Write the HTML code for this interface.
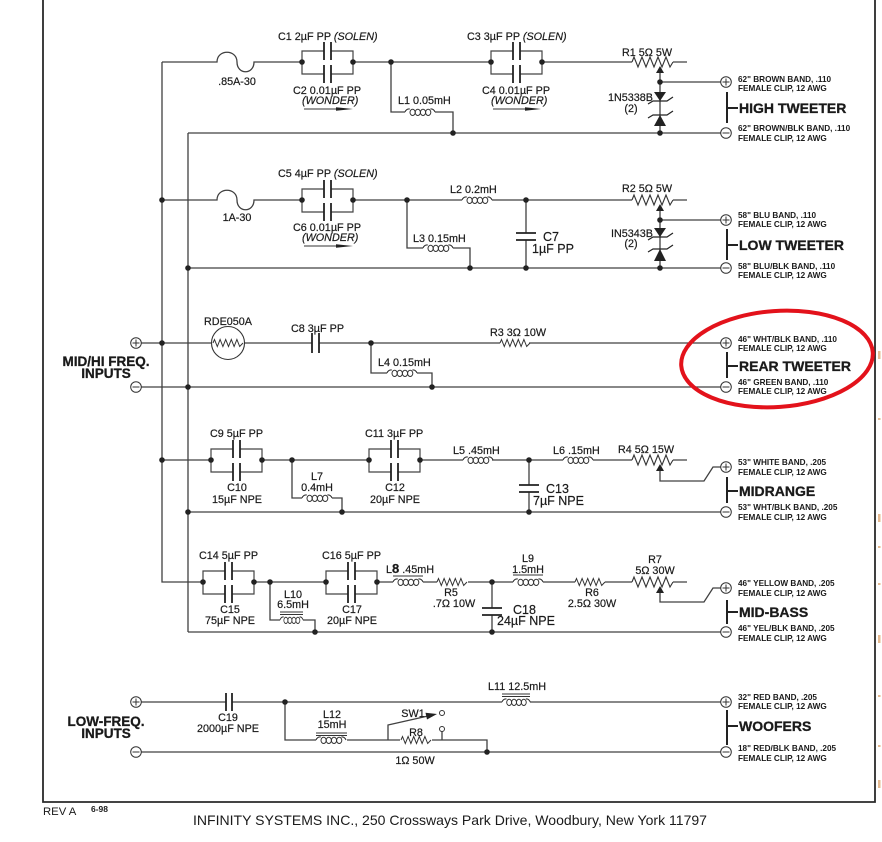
<!DOCTYPE html>
<html><head><meta charset="utf-8">
<style>
html,body{margin:0;padding:0;background:#fff;}
svg{display:block}
text{font-family:"Liberation Sans",Arial,sans-serif;fill:#1a1a1a}
.c{font-size:10.8px;stroke:#1a1a1a;stroke-width:0.2}
.s{font-size:8.2px;font-weight:bold}
.b{font-size:14px;font-weight:bold;stroke:#1a1a1a;stroke-width:0.3}
.inp{font-size:13.5px;font-weight:bold;stroke:#1a1a1a;stroke-width:0.3}
.i{font-style:italic}
</style></head><body>
<svg width="882" height="842" viewBox="0 0 882 842" xmlns="http://www.w3.org/2000/svg">
<defs>
 <g id="cbox">
  <path d="M0,0V-11H22M29,-11H51V0M0,0V12H22M29,12H51V0" fill="none" stroke="#444" stroke-width="1.2"/>
  <path d="M22,-20V-2M29,-20V-2M22,3V21M29,3V21" fill="none" stroke="#222" stroke-width="1.8"/>
  <circle cx="0" cy="0" r="2.8" fill="#222"/>
  <circle cx="51" cy="0" r="2.8" fill="#222"/>
 </g>
 <g id="coil" fill="none" stroke="#333" stroke-width="1">
  <path d="M0,0Q1.5,-3.5 4.8,-3M25.4,-3Q28.5,-3.5 30,0"/>
  <ellipse cx="7.6" cy="0.4" rx="2.6" ry="3.1"/>
  <ellipse cx="12.8" cy="0.4" rx="2.6" ry="3.1"/>
  <ellipse cx="18" cy="0.4" rx="2.6" ry="3.1"/>
  <ellipse cx="23.2" cy="0.4" rx="2.6" ry="3.1"/>
 </g>
 <polyline id="rp" points="0,0 2,-5 6,5 10,-5 14,5 18,-5 22,5 26,-5 30,5 34,-5 38,5 41,0" fill="none" stroke="#333" stroke-width="1.1"/>
 <polyline id="rs" points="0,0 1.5,-3.5 4.3,3.5 7.1,-3.5 9.9,3.5 12.7,-3.5 15.5,3.5 18.3,-3.5 21.1,3.5 23.9,-3.5 26.7,3.5 30,0" fill="none" stroke="#333" stroke-width="1"/>
 <g id="tp"><circle cx="0" cy="0" r="5.3" fill="#fff" stroke="#333" stroke-width="1"/><path d="M-3.5,0H3.5M0,-3.5V3.5" stroke="#333" stroke-width="1"/></g>
 <g id="tm"><circle cx="0" cy="0" r="5.3" fill="#fff" stroke="#333" stroke-width="1"/><path d="M-3.5,0H3.5" stroke="#333" stroke-width="1"/></g>
</defs>

<!-- frame -->
<path d="M43,0V802H875V0" fill="none" stroke="#2a2a2a" stroke-width="1.8"/>
<!-- orange edge marks -->
<g fill="#e6bb92">
 <rect x="878" y="351" width="2.5" height="8"/>
 <rect x="878" y="418" width="2.5" height="2"/>
 <rect x="878" y="514" width="2.5" height="8"/>
 <rect x="878" y="546" width="2.5" height="2"/>
 <rect x="878" y="583" width="2.5" height="2"/>
 <rect x="878" y="635" width="2.5" height="8"/>
 <rect x="878" y="695" width="2.5" height="2"/>
 <rect x="878" y="745" width="2.5" height="2"/>
 <rect x="878" y="780" width="2.5" height="8"/>
</g>

<!-- wires -->
<g fill="none" stroke="#404040" stroke-width="1.3">
 <path d="M162,62V582H203"/>
 <path d="M188,133V632"/>
 <path d="M162,62H217C217,49 237,49 237,62S254,75 254,62H302"/>
 <path d="M353,62H491M542,62H632M673,62H687"/>
 <path d="M391,62V112H405M435,112H453V133"/>
 <path d="M660,73V133M660,82H721"/>
 <path d="M188,133H721"/>
 <path d="M162,200H217C217,187 237,187 237,200S254,213 254,200H302"/>
 <path d="M353,200H462M492,200H632M673,200H687"/>
 <path d="M407,200V248H423M453,248H470V268"/>
 <path d="M526,200V233M526,240V268"/>
 <path d="M660,211V268M660,220H721"/>
 <path d="M188,268H721"/>
 <path d="M141,343H211.5M244.5,343H312M319,343H500M529,343H721"/>
 <path d="M371,343V373H387M417,373H432V387"/>
 <path d="M141,387H721"/>
 <path d="M162,460H211M262,460H369M420,460H463M492,460H563M593,460H632M673,460H687"/>
 <path d="M292,460V498H302M332,498H342V512"/>
 <path d="M529,460V485M529,492V512"/>
 <path d="M660,471V481H704L713,467H721"/>
 <path d="M188,512H721"/>
 <path d="M254,582H326M377,582H393M423,582H437M468,582H513M543,582H575M605,582H632M673,582H687"/>
 <path d="M270,582V620H280M303,620H315V632"/>
 <path d="M492,582V608M492,615V632"/>
 <path d="M660,593V602H704L713,588H721"/>
 <path d="M188,632H721"/>
 <path d="M141,702H226M232,702H502M530,702H721"/>
 <path d="M285,702V740H316M347,740H400M432,740H487V752"/>
 <path d="M388,740V725L428,716"/>
 <path d="M442,731.5V740"/>
 <path d="M141,752H721"/>
</g>

<!-- capacitor boxes -->
<use href="#cbox" x="302" y="62"/>
<use href="#cbox" x="491" y="62"/>
<use href="#cbox" x="302" y="200"/>
<use href="#cbox" x="211" y="460"/>
<use href="#cbox" x="369" y="460"/>
<use href="#cbox" x="203" y="582"/>
<use href="#cbox" x="326" y="582"/>

<!-- single caps -->
<g fill="none" stroke="#222" stroke-width="1.8">
 <path d="M516,233H536M516,240H536"/>
 <path d="M312,333V353M319,333V353"/>
 <path d="M519,485H539M519,492H539"/>
 <path d="M482,608H502M482,615H502"/>
 <path d="M226,693V711M232,693V711"/>
</g>

<!-- coils -->
<use href="#coil" x="405" y="112"/>
<use href="#coil" x="462" y="200"/>
<use href="#coil" x="423" y="248"/>
<use href="#coil" x="387" y="373"/>
<use href="#coil" x="302" y="498"/>
<use href="#coil" x="463" y="460"/>
<use href="#coil" x="563" y="460"/>
<use href="#coil" x="393" y="582"/>
<use href="#coil" x="513" y="582"/>
<g transform="translate(280,620) scale(0.77,1)"><use href="#coil"/></g>
<use href="#coil" x="316" y="740"/>
<g transform="translate(502,702) scale(0.94,1)"><use href="#coil"/></g>
<g stroke="#333" stroke-width="0.9">
 <path d="M280,612H303M280,614.5H303"/>
 <path d="M316,733H347M316,735.5H347"/>
 <path d="M502,694H530M502,696.5H530"/>
 <path d="M393,576H423"/>
 <path d="M513,575H543"/>
</g>

<!-- resistors -->
<use href="#rp" x="632" y="62"/>
<use href="#rp" x="632" y="200"/>
<use href="#rp" x="632" y="460"/>
<use href="#rp" x="632" y="582"/>
<use href="#rs" x="500" y="343"/>
<use href="#rs" x="437" y="582"/>
<use href="#rs" x="575" y="582"/>
<use href="#rs" x="401" y="740"/>
<circle cx="228" cy="343" r="16.5" fill="none" stroke="#333" stroke-width="1.1"/>
<use href="#rs" x="213" y="343"/>

<!-- wiper arrows -->
<g fill="#222">
 <polygon points="660,66 656,73 664,73"/>
 <polygon points="660,204 656,211 664,211"/>
 <polygon points="660,464 656,471 664,471"/>
 <polygon points="660,586 656,593 664,593"/>
</g>

<!-- zeners -->
<g fill="#222">
 <polygon points="654,92 666,92 660,101"/>
 <polygon points="660,115 654,126 666,126"/>
 <polygon points="654,228 666,228 660,237"/>
 <polygon points="660,249 654,261 666,261"/>
</g>
<g fill="none" stroke="#222" stroke-width="1.2">
 <path d="M648,104L653,101H667L673,97"/>
 <path d="M648,118L653,115H667L673,111"/>
 <path d="M648,240L653,237H667L673,233"/>
 <path d="M648,252L653,249H667L673,245"/>
</g>

<!-- switch -->
<polygon points="437,714 427,719.5 425.5,712.8" fill="#222"/>
<circle cx="442" cy="713" r="2.5" fill="#fff" stroke="#333" stroke-width="1"/>
<circle cx="442" cy="729" r="2.5" fill="#fff" stroke="#333" stroke-width="1"/>

<!-- WONDER arrows -->
<g stroke="#333" stroke-width="1.1" fill="#222">
 <path d="M304,109H338"/><polygon points="336,107.2 353,109 336,110.8" stroke="none"/>
 <path d="M493,109H527"/><polygon points="525,107.2 541,109 525,110.8" stroke="none"/>
 <path d="M304,246H338"/><polygon points="336,244.2 353,246 336,247.8" stroke="none"/>
</g>

<!-- nodes -->
<g fill="#222">
 <circle cx="391" cy="62" r="2.8"/><circle cx="453" cy="133" r="2.8"/>
 <circle cx="660" cy="82" r="2.8"/><circle cx="660" cy="133" r="2.8"/>
 <circle cx="162" cy="200" r="2.8"/><circle cx="407" cy="200" r="2.8"/>
 <circle cx="526" cy="200" r="2.8"/><circle cx="470" cy="268" r="2.8"/>
 <circle cx="526" cy="268" r="2.8"/><circle cx="660" cy="220" r="2.8"/>
 <circle cx="660" cy="268" r="2.8"/><circle cx="188" cy="268" r="2.8"/>
 <circle cx="162" cy="343" r="2.8"/><circle cx="371" cy="343" r="2.8"/>
 <circle cx="188" cy="387" r="2.8"/><circle cx="432" cy="387" r="2.8"/>
 <circle cx="162" cy="460" r="2.8"/><circle cx="292" cy="460" r="2.8"/>
 <circle cx="529" cy="460" r="2.8"/><circle cx="342" cy="512" r="2.8"/>
 <circle cx="529" cy="512" r="2.8"/><circle cx="188" cy="512" r="2.8"/>
 <circle cx="270" cy="582" r="2.8"/><circle cx="492" cy="582" r="2.8"/>
 <circle cx="315" cy="632" r="2.8"/><circle cx="492" cy="632" r="2.8"/>
 <circle cx="285" cy="702" r="2.8"/><circle cx="487" cy="752" r="2.8"/>
</g>

<!-- terminals -->
<use href="#tp" x="726" y="82"/><use href="#tm" x="726" y="133"/>
<use href="#tp" x="726" y="220"/><use href="#tm" x="726" y="268"/>
<use href="#tp" x="726" y="343"/><use href="#tm" x="726" y="387"/>
<use href="#tp" x="726" y="467"/><use href="#tm" x="726" y="512"/>
<use href="#tp" x="726" y="588"/><use href="#tm" x="726" y="632"/>
<use href="#tp" x="726" y="702"/><use href="#tm" x="726" y="752"/>
<use href="#tp" x="136" y="343"/><use href="#tm" x="136" y="387"/>
<use href="#tp" x="136" y="702"/><use href="#tm" x="136" y="752"/>

<!-- speaker bars -->
<g fill="none" stroke="#222" stroke-width="2">
 <path d="M727,92V123M727,108H738"/>
 <path d="M727,229V260M727,245H738"/>
 <path d="M727,352V378M727,366H738"/>
 <path d="M727,477V503M727,491H738"/>
 <path d="M727,600V624M727,612H738"/>
 <path d="M727,710V745M727,726H738"/>
</g>

<!-- red ellipse -->
<ellipse cx="777" cy="359" rx="96" ry="48" fill="none" stroke="#e3121b" stroke-width="4" transform="rotate(-4 777 359)"/>

<!-- labels: high tweeter -->
<text class="c" x="278" y="40">C1 2µF PP <tspan class="i">(SOLEN)</tspan></text>
<text class="c" x="237" y="85" text-anchor="middle">.85A-30</text>
<text class="c" x="293" y="94">C2 0.01µF PP</text>
<text class="c i" x="302" y="104">(WONDER)</text>
<text class="c" x="398" y="104">L1 0.05mH</text>
<text class="c" x="467" y="40">C3 3µF PP <tspan class="i">(SOLEN)</tspan></text>
<text class="c" x="482" y="94">C4 0.01µF PP</text>
<text class="c i" x="491" y="104">(WONDER)</text>
<text class="c" x="622" y="56">R1 5Ω 5W</text>
<text class="c" x="653" y="101" text-anchor="end">1N5338B</text>
<text class="c" x="631" y="112" text-anchor="middle">(2)</text>

<!-- low tweeter -->
<text class="c" x="278" y="177">C5 4µF PP <tspan class="i">(SOLEN)</tspan></text>
<text class="c" x="237" y="221" text-anchor="middle">1A-30</text>
<text class="c" x="293" y="231">C6 0.01µF PP</text>
<text class="c i" x="302" y="241">(WONDER)</text>
<text class="c" x="450" y="193">L2 0.2mH</text>
<text class="c" x="413" y="242">L3 0.15mH</text>
<text class="c" x="543" y="241" style="font-size:12.5px">C7</text>
<text class="c" x="532" y="253" style="font-size:12.5px">1µF PP</text>
<text class="c" x="622" y="192">R2 5Ω 5W</text>
<text class="c" x="653" y="237" text-anchor="end">IN5343B</text>
<text class="c" x="631" y="247" text-anchor="middle">(2)</text>

<!-- rear -->
<text class="c" x="228" y="325" text-anchor="middle">RDE050A</text>
<text class="c" x="291" y="332">C8 3µF PP</text>
<text class="c" x="378" y="366">L4 0.15mH</text>
<text class="c" x="490" y="336">R3 3Ω 10W</text>
<text class="inp" x="106" y="366" text-anchor="middle">MID/HI FREQ.</text>
<text class="inp" x="106" y="378" text-anchor="middle">INPUTS</text>

<!-- midrange -->
<text class="c" x="210" y="437">C9 5µF PP</text>
<text class="c" x="237" y="491" text-anchor="middle">C10</text>
<text class="c" x="237" y="503" text-anchor="middle">15µF NPE</text>
<text class="c" x="317" y="480" text-anchor="middle">L7</text>
<text class="c" x="317" y="491" text-anchor="middle">0.4mH</text>
<text class="c" x="365" y="437">C11 3µF PP</text>
<text class="c" x="395" y="491" text-anchor="middle">C12</text>
<text class="c" x="395" y="503" text-anchor="middle">20µF NPE</text>
<text class="c" x="453" y="454">L5 .45mH</text>
<text class="c" x="553" y="454">L6 .15mH</text>
<text class="c" x="618" y="453">R4 5Ω 15W</text>
<text class="c" x="546" y="493" style="font-size:12.5px">C13</text>
<text class="c" x="533" y="505" style="font-size:12.5px">7µF NPE</text>

<!-- mid-bass -->
<text class="c" x="199" y="559">C14 5µF PP</text>
<text class="c" x="230" y="613" text-anchor="middle">C15</text>
<text class="c" x="230" y="624" text-anchor="middle">75µF NPE</text>
<text class="c" x="293" y="598" text-anchor="middle">L10</text>
<text class="c" x="293" y="608" text-anchor="middle">6.5mH</text>
<text class="c" x="322" y="559">C16 5µF PP</text>
<text class="c" x="352" y="613" text-anchor="middle">C17</text>
<text class="c" x="352" y="624" text-anchor="middle">20µF NPE</text>
<text class="c" x="386" y="573">L<tspan font-size="13" font-weight="bold">8</tspan> .45mH</text>
<text class="c" x="451" y="596" text-anchor="middle">R5</text>
<text class="c" x="454" y="607" text-anchor="middle">.7Ω 10W</text>
<text class="c" x="513" y="614" style="font-size:12.5px">C18</text>
<text class="c" x="497" y="625" style="font-size:12.5px">24µF NPE</text>
<text class="c" x="528" y="562" text-anchor="middle">L9</text>
<text class="c" x="528" y="573" text-anchor="middle">1.5mH</text>
<text class="c" x="592" y="596" text-anchor="middle">R6</text>
<text class="c" x="592" y="607" text-anchor="middle">2.5Ω 30W</text>
<text class="c" x="655" y="563" text-anchor="middle">R7</text>
<text class="c" x="655" y="574" text-anchor="middle">5Ω 30W</text>

<!-- woofers -->
<text class="c" x="228" y="721" text-anchor="middle">C19</text>
<text class="c" x="228" y="732" text-anchor="middle">2000µF NPE</text>
<text class="c" x="332" y="718" text-anchor="middle">L12</text>
<text class="c" x="332" y="728" text-anchor="middle">15mH</text>
<text class="c" x="413" y="717" text-anchor="middle">SW1</text>
<text class="c" x="416" y="736" text-anchor="middle">R8</text>
<text class="c" x="415" y="764" text-anchor="middle">1Ω 50W</text>
<text class="c" x="488" y="690">L11 12.5mH</text>
<text class="inp" x="106" y="726" text-anchor="middle">LOW-FREQ.</text>
<text class="inp" x="106" y="738" text-anchor="middle">INPUTS</text>

<!-- speaker labels -->
<text class="s" x="738" y="82">62" BROWN BAND, .110</text>
<text class="s" x="738" y="91">FEMALE CLIP, 12 AWG</text>
<text class="b" x="739" y="113">HIGH TWEETER</text>
<text class="s" x="738" y="131">62" BROWN/BLK BAND, .110</text>
<text class="s" x="738" y="141">FEMALE CLIP, 12 AWG</text>

<text class="s" x="738" y="218">58" BLU BAND, .110</text>
<text class="s" x="738" y="227">FEMALE CLIP, 12 AWG</text>
<text class="b" x="739" y="250">LOW TWEETER</text>
<text class="s" x="738" y="269">58" BLU/BLK BAND, .110</text>
<text class="s" x="738" y="278">FEMALE CLIP, 12 AWG</text>

<text class="s" x="738" y="342">46" WHT/BLK BAND, .110</text>
<text class="s" x="738" y="351">FEMALE CLIP, 12 AWG</text>
<text class="b" x="739" y="371">REAR TWEETER</text>
<text class="s" x="738" y="385">46" GREEN BAND, .110</text>
<text class="s" x="738" y="394">FEMALE CLIP, 12 AWG</text>

<text class="s" x="738" y="465">53" WHITE BAND, .205</text>
<text class="s" x="738" y="475">FEMALE CLIP, 12 AWG</text>
<text class="b" x="739" y="496">MIDRANGE</text>
<text class="s" x="738" y="510">53" WHT/BLK BAND, .205</text>
<text class="s" x="738" y="520">FEMALE CLIP, 12 AWG</text>

<text class="s" x="738" y="586">46" YELLOW BAND, .205</text>
<text class="s" x="738" y="596">FEMALE CLIP, 12 AWG</text>
<text class="b" x="739" y="617">MID-BASS</text>
<text class="s" x="738" y="631">46" YEL/BLK BAND, .205</text>
<text class="s" x="738" y="641">FEMALE CLIP, 12 AWG</text>

<text class="s" x="738" y="700">32" RED BAND, .205</text>
<text class="s" x="738" y="709">FEMALE CLIP, 12 AWG</text>
<text class="b" x="739" y="731">WOOFERS</text>
<text class="s" x="738" y="751">18" RED/BLK BAND, .205</text>
<text class="s" x="738" y="761">FEMALE CLIP, 12 AWG</text>

<!-- footer -->
<text x="43" y="815" font-size="11.3">REV A</text>
<text x="91" y="812" font-size="8.5" font-weight="bold">6-98</text>
<text x="193" y="825" font-size="14" textLength="514" lengthAdjust="spacingAndGlyphs">INFINITY SYSTEMS INC., 250 Crossways Park Drive, Woodbury, New York 11797</text>
</svg>
</body></html>
